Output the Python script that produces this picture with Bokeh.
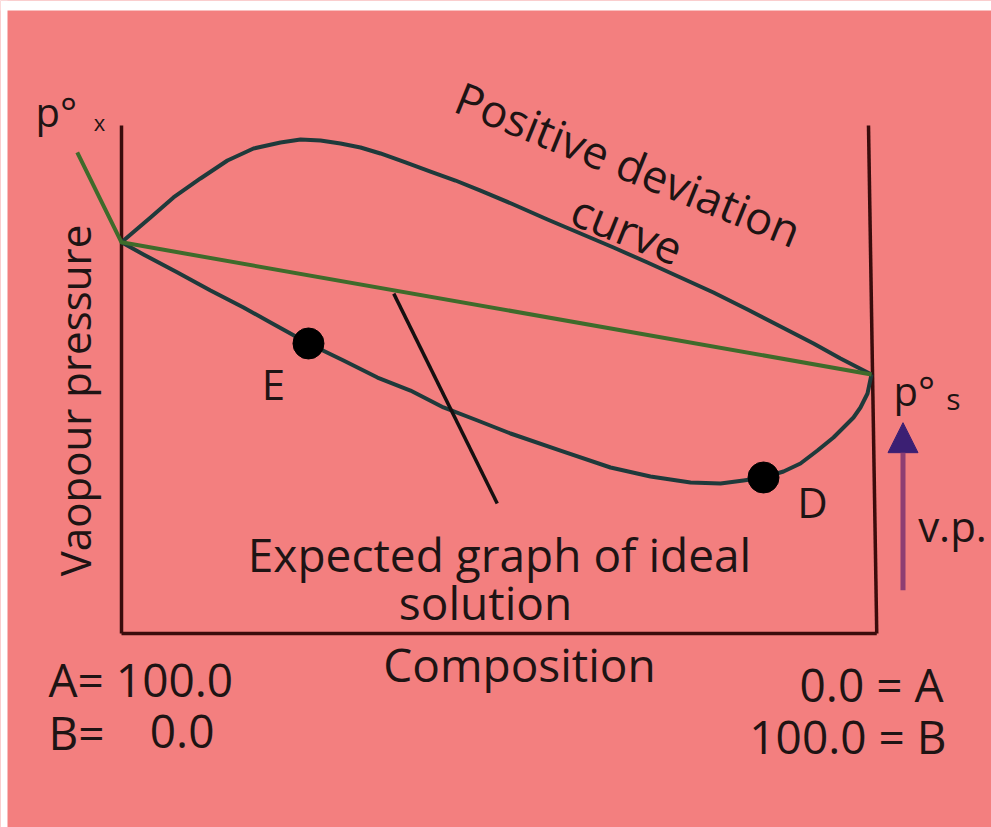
from bokeh.plotting import figure
from bokeh.models import Range1d, Label, Arrow, NormalHead
from bokeh.embed import file_html
from bokeh.resources import INLINE

# ---------------- data (composition % of B, vapour pressure arbitrary units) -------------
# box of the diagram
box_left_c = [0, 0]
box_left_v = [100, 0]
box_bottom_c = [0, 100.7]
box_bottom_v = [0, 0]
box_right_c = [99.6, 100.7]
box_right_v = [100, 0]

# positive deviation curve (upper)
upper_c = [0, 3.87, 6.93, 10.53, 14.13, 17.6, 21.2, 23.87, 26.53, 29.2, 31.87, 34.53,
           37.87, 41.2, 44.53, 47.87, 52.27, 56.8, 61.2, 65.6, 70.13, 74.53, 78.93,
           83.47, 87.87, 92.27, 95.87, 100]
upper_v = [77.0, 81.89, 85.83, 89.57, 93.11, 95.47, 96.65, 97.24, 97.05, 96.46, 95.67, 94.49,
           92.72, 90.94, 89.17, 87.2, 84.45, 81.5, 78.74, 75.98, 73.03, 70.08, 67.13,
           63.78, 60.43, 57.09, 54.13, 51.0]

# lower curve (through E and D)
lower_c = [0, 2.93, 7.47, 11.87, 16.27, 19.87, 24.93, 29.6, 34.13, 38.53, 42.93, 47.47,
           51.87, 58.53, 65.2, 70.53, 75.87, 79.87, 82.93, 85.6, 88.27, 90.53, 92.8,
           94.93, 96.27, 97.6, 98.53, 99.47, 100]
lower_v = [77.0, 74.61, 71.06, 67.52, 64.17, 61.22, 57.09, 53.74, 50.39, 47.83, 44.49, 41.93,
           39.37, 36.02, 32.68, 30.91, 29.72, 29.53, 30.12, 30.71, 31.89, 33.46, 36.02,
           38.58, 40.55, 42.52, 44.49, 47.24, 51.0]

# expected (ideal) straight line
ideal_c = [-5.9, 0, 100]
ideal_v = [94.7, 77, 51]

# pointer from the ideal line to its caption
pointer_c = [36.3, 50.1]
pointer_v = [66.9, 25.6]

# marked points E and D
point_names = ["E", "D"]
point_c = [24.93, 85.6]
point_v = [57.09, 30.71]

# v.p. arrow
arrow_c = [104.2, 104.2]
arrow_v = [8.5, 41.5]

# ---------------- layout -------------
W, H = 991, 827
LEFT_PAD, TOP_PAD = 7, 10
# page pixel mapping: page_x = 121 + 7.5*c ; page_y = 633 - 5.08*v
SX, SY = 7.5, 5.08


def cx(px):
    return (px - 121) / SX


def cy(py):
    return (633 - py) / SY


BG = "#F37F7F"
TXT = "#1E1414"
FONT = "Open Sans"

p = figure(width=W, height=H, output_backend="svg", toolbar_location=None,
           x_axis_type=None, y_axis_type=None, title=None,
           x_range=Range1d(cx(0), cx(W)), y_range=Range1d(cy(H), cy(0)),
           min_border=0, outline_line_color=None)
p.background_fill_color = BG
p.border_fill_color = BG

# white page margin strips (left and top) as in the reference image
p.quad(left=[cx(0), cx(0)], right=[cx(LEFT_PAD), cx(W)],
       bottom=[cy(H), cy(TOP_PAD)], top=[cy(0), cy(0)],
       fill_color="white", line_color=None)

BOX = "#3A0C0C"
CURVE = "#1F3A3B"
GREEN = "#3F6B2B"

p.line(box_left_c, box_left_v, line_color=BOX, line_width=3.5)
p.line(box_bottom_c, box_bottom_v, line_color=BOX, line_width=3.5)
p.line(box_right_c, box_right_v, line_color=BOX, line_width=3.5)

p.line(upper_c, upper_v, line_color=CURVE, line_width=4, line_join="round")
p.line(lower_c, lower_v, line_color=CURVE, line_width=4, line_join="round")
p.line(ideal_c, ideal_v, line_color=GREEN, line_width=4, line_join="round")
p.line(pointer_c, pointer_v, line_color="#151010", line_width=3.5)

p.scatter(point_c, point_v, size=31, color="black")

p.add_layout(Arrow(end=NormalHead(size=30, fill_color="#3B1F73", line_color="#3B1F73"),
                   x_start=arrow_c[0], y_start=arrow_v[0], x_end=arrow_c[1], y_end=arrow_v[1],
                   line_color="#8E3E72", line_width=5))


def lab(text, px, py, size, align="center", baseline="middle", angle=0):
    p.add_layout(Label(x=cx(px), y=cy(py), text=text, text_font=FONT,
                       text_font_size=f"{size}px", text_color=TXT,
                       text_align=align, text_baseline=baseline,
                       angle=angle, angle_units="deg"))


lab("p°", 35, 111, 40, align="left", baseline="alphabetic")
lab("x", 99, 121, 22)
lab("p°", 893, 390, 40, align="left", baseline="alphabetic")
lab("s", 953, 398, 30)
lab("E", 273, 383, 42)
lab("D", 812, 501, 42)
lab("v.p.", 952, 525, 42)
lab("Vaopour pressure", 74, 400, 42, baseline="alphabetic", angle=90)
lab("Positive deviation", 628, 163, 45, angle=-22)
lab("curve", 627, 228, 45, angle=-22)
lab("Expected graph of ideal", 499, 553, 46)
lab("solution", 485, 601, 46)
lab("Composition", 519, 663, 46)
lab("A= 100.0", 48, 678, 46, align="left")
lab("B=", 48, 731, 46, align="left")
lab("0.0", 214, 731, 46, align="right")
lab("0.0 = A", 943, 683, 46, align="right")
lab("100.0 = B", 946, 735, 46, align="right")

open("out.html", "w").write(file_html(p, INLINE))
